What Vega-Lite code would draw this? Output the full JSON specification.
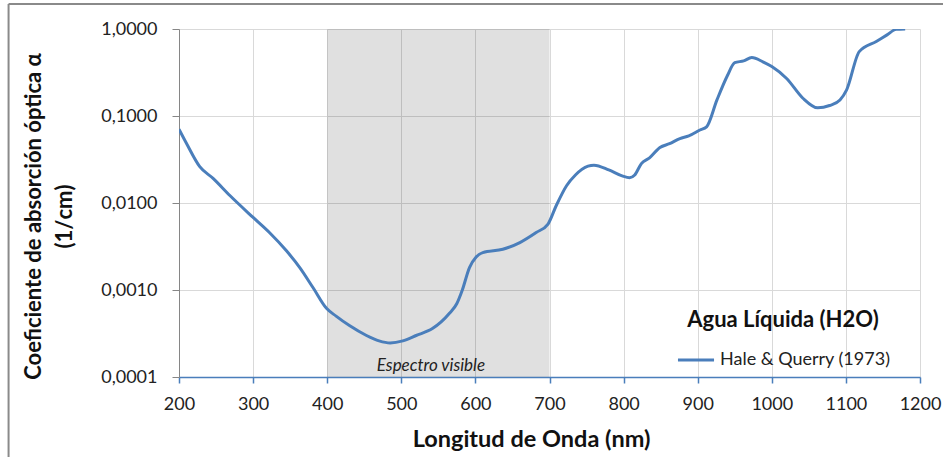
{
  "$schema": "https://vega.github.io/schema/vega-lite/v6.json",
  "width": 741,
  "height": 348,
  "autosize": "none",
  "padding": {"left": 179, "top": 29, "right": 23, "bottom": 80},
  "background": "white",
  "config": {
    "font": "Lato",
    "view": {"stroke": null},
    "axis": {"labelFont": "Lato", "titleFont": "Lato", "labelColor": "#222222", "titleColor": "#111111", "gridColor": "#d9d9d9", "gridWidth": 1}
  },
  "datasets": {
    "curve": [
      {"lambda": 200, "alpha": 0.0706, "serie": "Hale & Querry (1973)"},
      {"lambda": 210, "alpha": 0.0487, "serie": "Hale & Querry (1973)"},
      {"lambda": 228, "alpha": 0.0262, "serie": "Hale & Querry (1973)"},
      {"lambda": 246, "alpha": 0.0192, "serie": "Hale & Querry (1973)"},
      {"lambda": 269, "alpha": 0.0121, "serie": "Hale & Querry (1973)"},
      {"lambda": 300, "alpha": 0.00682, "serie": "Hale & Querry (1973)"},
      {"lambda": 322, "alpha": 0.00458, "serie": "Hale & Querry (1973)"},
      {"lambda": 345, "alpha": 0.00282, "serie": "Hale & Querry (1973)"},
      {"lambda": 363, "alpha": 0.00181, "serie": "Hale & Querry (1973)"},
      {"lambda": 381, "alpha": 0.00106, "serie": "Hale & Querry (1973)"},
      {"lambda": 399, "alpha": 0.000615, "serie": "Hale & Querry (1973)"},
      {"lambda": 412, "alpha": 0.000501, "serie": "Hale & Querry (1973)"},
      {"lambda": 430, "alpha": 0.00039, "serie": "Hale & Querry (1973)"},
      {"lambda": 453, "alpha": 0.0003, "serie": "Hale & Querry (1973)"},
      {"lambda": 470, "alpha": 0.00026, "serie": "Hale & Querry (1973)"},
      {"lambda": 485, "alpha": 0.000246, "serie": "Hale & Querry (1973)"},
      {"lambda": 502, "alpha": 0.00026, "serie": "Hale & Querry (1973)"},
      {"lambda": 520, "alpha": 0.0003, "serie": "Hale & Querry (1973)"},
      {"lambda": 542, "alpha": 0.00036, "serie": "Hale & Querry (1973)"},
      {"lambda": 565, "alpha": 0.00054, "serie": "Hale & Querry (1973)"},
      {"lambda": 575, "alpha": 0.0007, "serie": "Hale & Querry (1973)"},
      {"lambda": 582, "alpha": 0.00098, "serie": "Hale & Querry (1973)"},
      {"lambda": 592, "alpha": 0.00181, "serie": "Hale & Querry (1973)"},
      {"lambda": 601, "alpha": 0.0024, "serie": "Hale & Querry (1973)"},
      {"lambda": 610, "alpha": 0.00269, "serie": "Hale & Querry (1973)"},
      {"lambda": 637, "alpha": 0.00294, "serie": "Hale & Querry (1973)"},
      {"lambda": 660, "alpha": 0.00351, "serie": "Hale & Querry (1973)"},
      {"lambda": 682, "alpha": 0.00458, "serie": "Hale & Querry (1973)"},
      {"lambda": 698, "alpha": 0.00573, "serie": "Hale & Querry (1973)"},
      {"lambda": 709, "alpha": 0.0093, "serie": "Hale & Querry (1973)"},
      {"lambda": 723, "alpha": 0.0158, "serie": "Hale & Querry (1973)"},
      {"lambda": 735, "alpha": 0.021, "serie": "Hale & Querry (1973)"},
      {"lambda": 752, "alpha": 0.0265, "serie": "Hale & Querry (1973)"},
      {"lambda": 760, "alpha": 0.0272, "serie": "Hale & Querry (1973)"},
      {"lambda": 780, "alpha": 0.024, "serie": "Hale & Querry (1973)"},
      {"lambda": 798, "alpha": 0.0205, "serie": "Hale & Querry (1973)"},
      {"lambda": 808, "alpha": 0.0195, "serie": "Hale & Querry (1973)"},
      {"lambda": 815, "alpha": 0.021, "serie": "Hale & Querry (1973)"},
      {"lambda": 824, "alpha": 0.0284, "serie": "Hale & Querry (1973)"},
      {"lambda": 835, "alpha": 0.033, "serie": "Hale & Querry (1973)"},
      {"lambda": 849, "alpha": 0.0434, "serie": "Hale & Querry (1973)"},
      {"lambda": 862, "alpha": 0.048, "serie": "Hale & Querry (1973)"},
      {"lambda": 876, "alpha": 0.055, "serie": "Hale & Querry (1973)"},
      {"lambda": 888, "alpha": 0.059, "serie": "Hale & Querry (1973)"},
      {"lambda": 903, "alpha": 0.069, "serie": "Hale & Querry (1973)"},
      {"lambda": 912, "alpha": 0.075, "serie": "Hale & Querry (1973)"},
      {"lambda": 926, "alpha": 0.153, "serie": "Hale & Querry (1973)"},
      {"lambda": 940, "alpha": 0.29, "serie": "Hale & Querry (1973)"},
      {"lambda": 950, "alpha": 0.41, "serie": "Hale & Querry (1973)"},
      {"lambda": 962, "alpha": 0.43, "serie": "Hale & Querry (1973)"},
      {"lambda": 973, "alpha": 0.47, "serie": "Hale & Querry (1973)"},
      {"lambda": 988, "alpha": 0.42, "serie": "Hale & Querry (1973)"},
      {"lambda": 1000, "alpha": 0.37, "serie": "Hale & Querry (1973)"},
      {"lambda": 1020, "alpha": 0.27, "serie": "Hale & Querry (1973)"},
      {"lambda": 1042, "alpha": 0.16, "serie": "Hale & Querry (1973)"},
      {"lambda": 1062, "alpha": 0.124, "serie": "Hale & Querry (1973)"},
      {"lambda": 1078, "alpha": 0.132, "serie": "Hale & Querry (1973)"},
      {"lambda": 1092, "alpha": 0.153, "serie": "Hale & Querry (1973)"},
      {"lambda": 1101, "alpha": 0.2, "serie": "Hale & Querry (1973)"},
      {"lambda": 1118, "alpha": 0.55, "serie": "Hale & Querry (1973)"},
      {"lambda": 1141, "alpha": 0.72, "serie": "Hale & Querry (1973)"},
      {"lambda": 1155, "alpha": 0.85, "serie": "Hale & Querry (1973)"},
      {"lambda": 1168, "alpha": 0.99, "serie": "Hale & Querry (1973)"},
      {"lambda": 1180, "alpha": 1.0, "serie": "Hale & Querry (1973)"}
    ],
    "band": [{"inicio": 400, "fin": 700}],
    "nota": [{"lambda": 540, "alpha": 0.000133, "texto": "Espectro visible"}],
    "marco": [{"izq": -30, "der": 1400, "arriba": 1.94, "abajo": 0.000001}]
  },
  "layer": [
    {
      "data": {"name": "band"},
      "mark": {"type": "rect", "color": "black", "opacity": 0.12},
      "encoding": {
        "x": {"field": "inicio", "type": "quantitative", "scale": {"domain": [200, 1200], "nice": false, "zero": false}},
        "x2": {"field": "fin"}
      }
    },
    {
      "data": {"name": "curve"},
      "mark": {"type": "line", "interpolate": "monotone", "strokeWidth": 3, "clip": true},
      "encoding": {
        "x": {
          "field": "lambda", "type": "quantitative",
          "scale": {"domain": [200, 1200], "nice": false, "zero": false},
          "axis": {
            "title": "Longitud de Onda (nm)",
            "values": [200, 300, 400, 500, 600, 700, 800, 900, 1000, 1100, 1200],
            "format": "d",
            "labelFlush": false,
            "labelFontSize": 18, "labelPadding": 12,
            "titleFontSize": 23.5, "titleFontWeight": "bold", "titlePadding": 14, "titleX": 352,
            "domainColor": "#4A7EBB", "domainWidth": 1.5,
            "tickColor": "#4A7EBB", "tickSize": 6, "tickWidth": 1.5
          }
        },
        "y": {
          "field": "alpha", "type": "quantitative",
          "scale": {"type": "log", "domain": [0.0001, 1], "nice": false},
          "axis": {
            "title": ["Coeficiente de absorción óptica α", "(1/cm)"],
            "values": [0.0001, 0.001, 0.01, 0.1, 1],
            "labelExpr": "replace(format(datum.value, '.4f'), '.', ',')",
            "labelFontSize": 18, "labelPadding": 15,
            "titleFontSize": 22, "titleFontWeight": "bold", "titlePadding": 24, "titleLineHeight": 31,
            "titleY": 187,
            "domainColor": "#868686", "tickColor": "#868686", "tickSize": 7
          }
        },
        "color": {
          "field": "serie", "type": "nominal",
          "scale": {"range": ["#4A7EBB"]},
          "legend": {
            "title": "Agua Líquida (H2O)",
            "orient": "none", "legendX": 497, "legendY": 281,
            "titleFontSize": 22, "titleFontWeight": "bold", "titleColor": "#111111", "titleAnchor": "middle", "titlePadding": 8, "titleLimit": 400,
            "labelFontSize": 18, "labelColor": "#222222", "labelLimit": 400,
            "symbolType": "stroke", "symbolSize": 1300, "symbolStrokeWidth": 3, "labelOffset": 4
          }
        }
      }
    },
    {
      "data": {"name": "nota"},
      "mark": {"type": "text", "fontStyle": "italic", "fontSize": 17, "color": "#222222", "baseline": "middle", "align": "center"},
      "encoding": {
        "x": {"field": "lambda", "type": "quantitative"},
        "y": {"field": "alpha", "type": "quantitative"},
        "text": {"field": "texto"}
      }
    },
    {
      "data": {"name": "marco"},
      "mark": {"type": "rule", "color": "#8a8a8a", "strokeWidth": 2},
      "encoding": {
        "x": {"field": "izq", "type": "quantitative"},
        "y": {"field": "arriba", "type": "quantitative"},
        "y2": {"field": "abajo"}
      }
    },
    {
      "data": {"name": "marco"},
      "mark": {"type": "rule", "color": "#8a8a8a", "strokeWidth": 2},
      "encoding": {
        "x": {"field": "izq", "type": "quantitative"},
        "x2": {"field": "der"},
        "y": {"field": "arriba", "type": "quantitative"}
      }
    }
  ]
}
